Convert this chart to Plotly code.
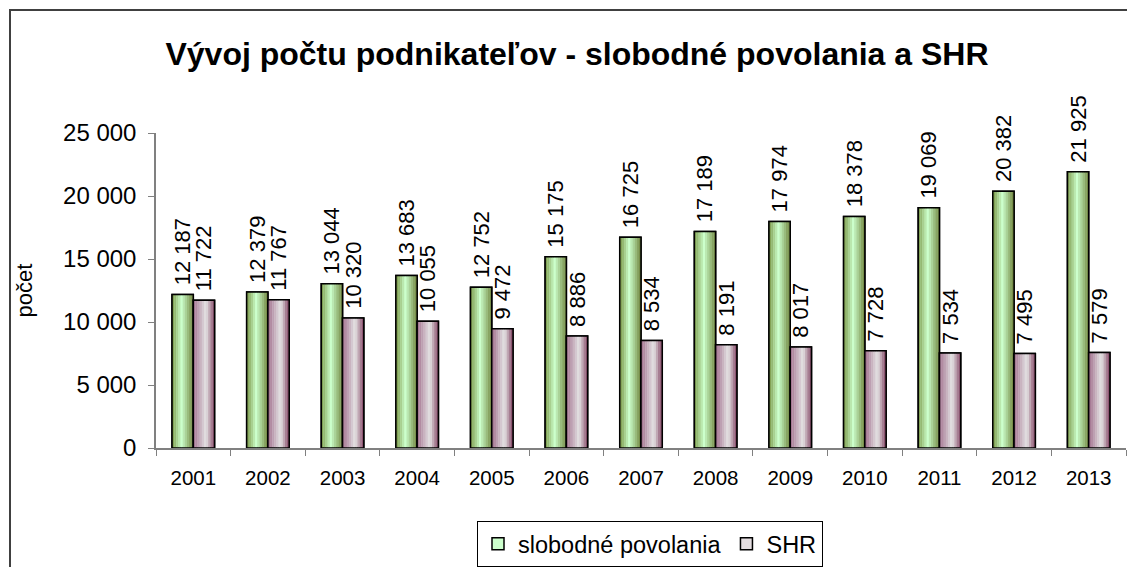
import plotly.graph_objects as go

years = ["2001", "2002", "2003", "2004", "2005", "2006", "2007",
         "2008", "2009", "2010", "2011", "2012", "2013"]
slobodne = [12187, 12379, 13044, 13683, 12752, 15175, 16725,
            17189, 17974, 18378, 19069, 20382, 21925]
shr = [11722, 11767, 10320, 10055, 9472, 8886, 8534,
       8191, 8017, 7728, 7534, 7495, 7579]

title_text = "Vývoj počtu podnikateľov - slobodné povolania a SHR"
y_title = "počet"
y_ticks = [0, 5000, 10000, 15000, 20000, 25000]
y_ticktext = ["0", "5 000", "10 000", "15 000", "20 000", "25 000"]

FONT = "Liberation Sans, Arial, sans-serif"


def fmt(v):
    return "\u00a0" + f"{v:,}".replace(",", " ")


def lerp(c1, c2, t):
    return "rgb(%d,%d,%d)" % tuple(round(a + (b - a) * t) for a, b in zip(c1, c2))


def profile(edge_l, peak, edge_r, peak_pos, t):
    if t <= peak_pos:
        return lerp(edge_l, peak, t / peak_pos)
    return lerp(peak, edge_r, (t - peak_pos) / (1 - peak_pos))


fig = go.Figure()

BW = 0.285
N = 10
series = [
    ("slobodné povolania", slobodne, -BW, (122, 150, 70), (204, 255, 204), (110, 130, 60), 0.45, "#ccffcc"),
    ("SHR", shr, 0.0, (160, 110, 140), (230, 230, 230), (128, 64, 96), 0.6, "#e4dde0"),
]

for name, vals, off, el, pk, er, pp, legcol in series:
    fig.add_trace(go.Bar(
        x=years, y=vals, name=name, offset=off, width=BW,
        marker=dict(color=legcol, line=dict(color="black", width=1.5)),
        showlegend=True, hoverinfo="skip",
    ))
    sw = BW / N
    for i in range(N):
        t = (i + 0.5) / N
        fig.add_trace(go.Bar(
            x=years, y=vals, offset=off + i * sw, width=sw * 1.08,
            marker=dict(color=profile(el, pk, er, pp, t), line=dict(width=0)),
            showlegend=False, hoverinfo="skip",
        ))
    fig.add_trace(go.Bar(
        x=years, y=vals, offset=off, width=BW,
        marker=dict(color="rgba(0,0,0,0)", line=dict(color="black", width=1.5)),
        text=[fmt(v) for v in vals], textposition="outside", textangle=-90,
        textfont=dict(family=FONT, size=22, color="black"),
        constraintext="none", cliponaxis=False,
        showlegend=False, hoverinfo="skip",
    ))

# page body has an 8px margin: figure coords = screen coords - 8
OFF = 8
W, H = 1135 - OFF, 567 - OFF
L = 156 - OFF
T = 133 - OFF
R = W - (1126 - OFF)
B = H - (448 - OFF)
pw, ph = W - L - R, H - T - B

fig.update_layout(
    width=W, height=H,
    barmode="overlay",
    plot_bgcolor="white", paper_bgcolor="white",
    margin=dict(l=L, r=R, t=T, b=B, autoexpand=False),
    font=dict(family=FONT, size=20, color="black"),
    title=dict(text="<b>" + title_text + "</b>", x=(577 - OFF) / W, xanchor="center",
               y=1 - (54 - OFF) / H, yanchor="middle",
               font=dict(family=FONT, size=32, color="black")),
    xaxis=dict(
        type="category", tickson="boundaries", ticks="outside", ticklen=6,
        tickcolor="#808080", showline=True, linecolor="#808080", linewidth=1.5,
        showgrid=False, tickfont=dict(size=20.5), range=[-0.5, 12.5],
        automargin=False, ticklabelstandoff=11,
    ),
    yaxis=dict(
        range=[0, 25000], tickvals=y_ticks, ticktext=y_ticktext,
        ticks="outside", ticklen=6, tickcolor="#808080",
        showline=True, linecolor="#808080", linewidth=1.5, showgrid=False,
        tickfont=dict(size=24), zeroline=False, automargin=False,
        ticklabelstandoff=7,
        title=dict(text=y_title, font=dict(size=22), standoff=24),
    ),
    legend=dict(orientation="h", x=(650 - OFF - L) / pw, xanchor="center",
                y=-((544 - OFF) - (T + ph)) / ph, yanchor="middle",
                bordercolor="black", borderwidth=1, font=dict(size=23.5),
                itemwidth=30, traceorder="normal"),
    shapes=[dict(type="rect", xref="paper", yref="paper",
                 x0=(10 - OFF - L) / pw, x1=(W + 20 - L) / pw,
                 y0=-(H + 20 - T - ph) / ph, y1=1 + (T - (10 - OFF)) / ph,
                 line=dict(color="#404040", width=2), fillcolor="rgba(0,0,0,0)",
                 layer="below")],
)

fig.write_html("out.html")
